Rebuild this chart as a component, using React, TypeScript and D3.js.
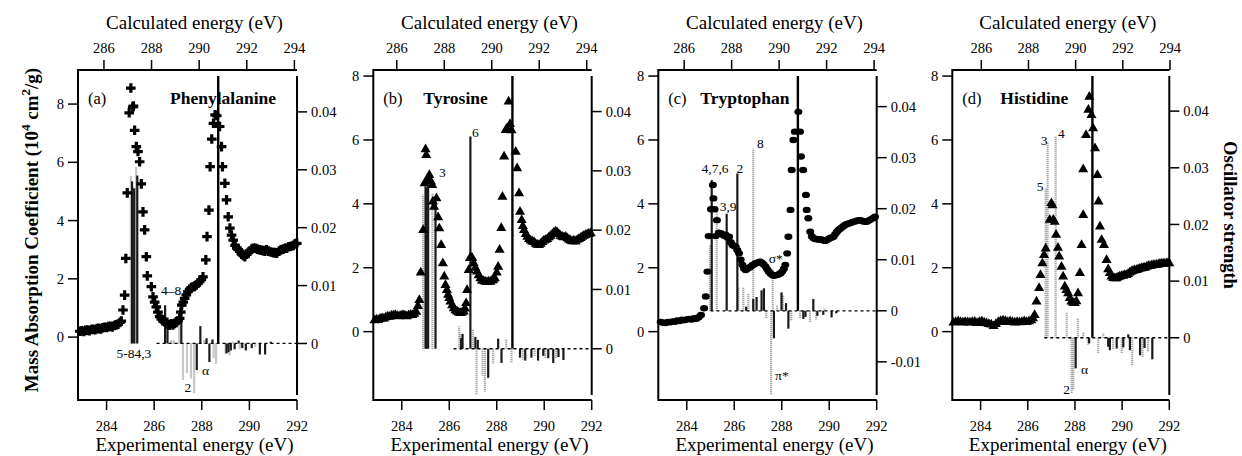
import React from 'react';
import * as d3 from 'd3';

type Pt = [number, number];

// measured spectra: [experimental energy (eV), mass absorption coefficient (10^4 cm2/g)]
const pheSpectrum: Pt[] = [
  [282.88, 0.2], [282.96, 0.22], [283.04, 0.19], [283.12, 0.23], [283.2, 0.24], [283.28, 0.22], [283.36, 0.26],
  [283.44, 0.27], [283.52, 0.25], [283.6, 0.29], [283.68, 0.3], [283.76, 0.28], [283.84, 0.32], [283.92, 0.34],
  [284.0, 0.33], [284.08, 0.36], [284.16, 0.37], [284.24, 0.35], [284.32, 0.4], [284.4, 0.42], [284.48, 0.44],
  [284.56, 0.5], [284.62, 0.55], [284.69, 0.93], [284.76, 1.44], [284.81, 2.7], [284.87, 4.95], [284.95, 7.7],
  [285.02, 8.55], [285.1, 7.9], [285.13, 7.93], [285.18, 7.1], [285.25, 6.54], [285.32, 6.37], [285.39, 6.02],
  [285.46, 5.26], [285.53, 4.3], [285.6, 3.68], [285.67, 2.76], [285.71, 2.1], [285.88, 1.73], [285.95, 1.38],
  [286.02, 1.2], [286.09, 1.04], [286.16, 0.86], [286.23, 0.7], [286.3, 0.62], [286.37, 0.55], [286.44, 0.53],
  [286.51, 0.47], [286.58, 0.43], [286.65, 0.41], [286.72, 0.46], [286.79, 0.42], [286.86, 0.47], [286.93, 0.5],
  [287.0, 0.56], [287.07, 0.64], [287.12, 0.86], [287.16, 1.1], [287.22, 1.2], [287.28, 1.33], [287.35, 1.45],
  [287.42, 1.56], [287.49, 1.64], [287.56, 1.7], [287.63, 1.73], [287.7, 1.74], [287.77, 1.79], [287.84, 1.85],
  [287.91, 1.9], [287.98, 1.97], [288.05, 2.07], [288.17, 2.65], [288.22, 3.45], [288.3, 4.36], [288.35, 5.85],
  [288.42, 6.8], [288.49, 7.34], [288.56, 7.63], [288.63, 7.6], [288.75, 7.23], [288.83, 6.54], [288.87, 5.85],
  [288.97, 5.28], [289.04, 4.71], [289.11, 4.13], [289.18, 3.74], [289.25, 3.5], [289.32, 3.33], [289.4, 3.15],
  [289.47, 3.05], [289.53, 3.0], [289.6, 2.95], [289.67, 2.85], [289.74, 2.8], [289.81, 2.76], [289.88, 2.85],
  [289.95, 2.9], [290.02, 2.95], [290.1, 3.02], [290.16, 3.05], [290.25, 3.05], [290.33, 3.02], [290.42, 3.0],
  [290.5, 2.98], [290.58, 2.97], [290.65, 2.95], [290.72, 3.0], [290.8, 2.95], [290.9, 2.92], [291.0, 2.9],
  [291.08, 2.9], [291.15, 2.88], [291.25, 2.95], [291.33, 3.0], [291.42, 3.02], [291.5, 3.05], [291.57, 3.05],
  [291.65, 3.1], [291.75, 3.12], [291.85, 3.15], [291.92, 3.2], [291.99, 3.22],
];

const tyrSpectrum: Pt[] = [
  [282.85, 0.35], [282.93, 0.38], [283.01, 0.36], [283.09, 0.4], [283.17, 0.42], [283.25, 0.41], [283.33, 0.45],
  [283.41, 0.47], [283.49, 0.46], [283.57, 0.5], [283.65, 0.5], [283.73, 0.52], [283.81, 0.49], [283.89, 0.48],
  [283.97, 0.5], [284.05, 0.52], [284.13, 0.5], [284.21, 0.48], [284.29, 0.51], [284.37, 0.53], [284.45, 0.52],
  [284.53, 0.56], [284.61, 0.62], [284.68, 0.8], [284.74, 0.99], [284.8, 1.85], [284.9, 3.18], [284.96, 4.64],
  [285.0, 5.71], [285.03, 5.53], [285.1, 4.75], [285.16, 4.9], [285.23, 4.7], [285.28, 4.59], [285.31, 4.07],
  [285.36, 3.91], [285.46, 4.17], [285.53, 3.58], [285.58, 3.23], [285.66, 2.71], [285.73, 2.14], [285.79, 1.72],
  [285.84, 1.46], [285.9, 1.3], [285.95, 1.15], [286.0, 1.05], [286.05, 0.94], [286.12, 0.82], [286.19, 0.73],
  [286.26, 0.67], [286.33, 0.63], [286.4, 0.6], [286.47, 0.58], [286.54, 0.6], [286.61, 0.63], [286.66, 0.72],
  [286.71, 0.89], [286.75, 1.3], [286.82, 1.93], [286.87, 2.3], [286.92, 2.32], [286.97, 2.3], [287.03, 2.14],
  [287.1, 2.0], [287.17, 1.88], [287.24, 1.76], [287.31, 1.67], [287.38, 1.6], [287.45, 1.58], [287.52, 1.56],
  [287.59, 1.55], [287.66, 1.57], [287.73, 1.56], [287.8, 1.6], [287.86, 1.62], [287.92, 1.67], [288.0, 1.85],
  [288.06, 2.03], [288.12, 2.56], [288.19, 3.24], [288.24, 4.22], [288.31, 5.48], [288.38, 6.31], [288.43, 6.36],
  [288.5, 7.2], [288.56, 6.5], [288.62, 6.3], [288.8, 5.63], [288.86, 5.11], [288.94, 4.33], [288.98, 3.75],
  [289.05, 3.49], [289.1, 3.3], [289.15, 3.18], [289.22, 3.05], [289.29, 2.97], [289.36, 2.9], [289.43, 2.85],
  [289.5, 2.82], [289.57, 2.8], [289.64, 2.75], [289.71, 2.72], [289.78, 2.71], [289.85, 2.75], [289.92, 2.8],
  [289.99, 2.85], [290.06, 2.87], [290.13, 2.9], [290.2, 2.95], [290.27, 3.0], [290.34, 3.05], [290.41, 3.1],
  [290.48, 3.13], [290.55, 3.1], [290.62, 3.05], [290.69, 3.0], [290.76, 2.97], [290.83, 2.95], [290.9, 2.97],
  [290.97, 2.92], [291.04, 2.88], [291.11, 2.85], [291.18, 2.83], [291.25, 2.85], [291.32, 2.82], [291.39, 2.87],
  [291.46, 2.9], [291.53, 2.93], [291.6, 2.97], [291.67, 3.0], [291.74, 3.02], [291.81, 3.05], [291.88, 3.06],
  [291.96, 3.08],
];

const trpSpectrum: Pt[] = [
  [282.9, 0.3], [283.0, 0.28], [283.1, 0.27], [283.2, 0.3], [283.3, 0.29], [283.4, 0.32], [283.5, 0.31],
  [283.6, 0.35], [283.7, 0.33], [283.8, 0.37], [283.9, 0.36], [284.0, 0.38], [284.1, 0.4], [284.2, 0.38],
  [284.3, 0.42], [284.4, 0.4], [284.5, 0.45], [284.6, 0.52], [284.73, 0.73], [284.8, 1.1], [284.87, 1.88],
  [284.92, 2.99], [285.02, 3.83], [285.1, 4.59], [285.12, 4.17], [285.17, 3.83], [285.22, 2.99], [285.27, 3.49],
  [285.35, 3.1], [285.43, 3.08], [285.5, 3.05], [285.57, 3.0], [285.64, 3.03], [285.71, 2.95], [285.78, 2.97],
  [285.85, 2.8], [285.92, 2.71], [285.99, 2.68], [286.06, 2.66], [286.13, 2.55], [286.2, 2.45], [286.27, 2.25],
  [286.34, 2.09], [286.41, 1.98], [286.48, 1.93], [286.55, 1.97], [286.62, 2.0], [286.69, 2.03], [286.76, 2.08],
  [286.83, 2.1], [286.9, 2.14], [286.97, 2.15], [287.04, 2.18], [287.1, 2.19], [287.17, 2.15], [287.24, 2.1],
  [287.32, 2.03], [287.39, 1.95], [287.45, 1.88], [287.52, 1.82], [287.6, 1.77], [287.67, 1.75], [287.74, 1.77],
  [287.81, 1.77], [287.88, 1.8], [287.95, 1.83], [288.02, 1.88], [288.09, 1.97], [288.15, 2.09], [288.23, 2.45],
  [288.28, 2.97], [288.37, 3.81], [288.42, 5.06], [288.49, 6.0], [288.55, 6.26], [288.7, 6.88], [288.77, 6.26],
  [288.81, 5.48], [288.9, 5.06], [289.02, 4.28], [289.05, 3.81], [289.12, 3.55], [289.2, 3.13], [289.27, 2.98],
  [289.34, 2.92], [289.41, 2.9], [289.48, 2.9], [289.55, 2.88], [289.62, 2.89], [289.69, 2.88], [289.76, 2.85],
  [289.83, 2.84], [289.9, 2.87], [289.97, 2.9], [290.04, 2.93], [290.11, 2.95], [290.18, 2.97], [290.25, 3.05],
  [290.32, 3.12], [290.39, 3.18], [290.46, 3.22], [290.53, 3.26], [290.6, 3.3], [290.67, 3.34], [290.74, 3.37],
  [290.81, 3.38], [290.88, 3.4], [290.95, 3.42], [291.02, 3.44], [291.09, 3.45], [291.16, 3.47], [291.23, 3.48],
  [291.3, 3.49], [291.37, 3.47], [291.44, 3.45], [291.51, 3.44], [291.58, 3.44], [291.65, 3.47], [291.72, 3.5],
  [291.79, 3.53], [291.86, 3.56], [291.93, 3.6],
];

const hisSpectrum: Pt[] = [
  [282.85, 0.28], [282.95, 0.3], [283.05, 0.32], [283.15, 0.3], [283.25, 0.28], [283.35, 0.3], [283.45, 0.29],
  [283.55, 0.28], [283.65, 0.3], [283.75, 0.31], [283.85, 0.27], [283.95, 0.3], [284.05, 0.32], [284.15, 0.28],
  [284.25, 0.26], [284.35, 0.24], [284.45, 0.22], [284.55, 0.17], [284.65, 0.24], [284.75, 0.3], [284.85, 0.33],
  [284.95, 0.35], [285.05, 0.33], [285.15, 0.3], [285.25, 0.32], [285.35, 0.3], [285.45, 0.28], [285.55, 0.3],
  [285.65, 0.29], [285.75, 0.3], [285.85, 0.32], [285.95, 0.3], [286.05, 0.32], [286.15, 0.35], [286.22, 0.42],
  [286.29, 0.52], [286.37, 0.94], [286.48, 1.36], [286.54, 1.77], [286.62, 2.14], [286.69, 2.4], [286.76, 2.6],
  [286.93, 3.5], [287.0, 4.02], [287.04, 3.95], [287.08, 3.5], [287.14, 3.44], [287.2, 3.03], [287.28, 2.62],
  [287.33, 2.35], [287.43, 2.03], [287.5, 1.72], [287.57, 1.41], [287.64, 1.3], [287.71, 1.2], [287.78, 1.05],
  [287.85, 0.94], [287.92, 0.9], [287.99, 0.89], [288.06, 0.95], [288.13, 1.2], [288.21, 1.83], [288.28, 2.71],
  [288.35, 3.65], [288.35, 5.08], [288.47, 6.15], [288.57, 6.94], [288.61, 7.35], [288.7, 6.78], [288.77, 6.36],
  [288.85, 5.74], [288.95, 4.9], [289.0, 4.07], [289.06, 3.29], [289.13, 2.87], [289.23, 2.71], [289.34, 2.24],
  [289.41, 1.95], [289.48, 1.83], [289.55, 1.72], [289.62, 1.68], [289.69, 1.67], [289.76, 1.67], [289.83, 1.7],
  [289.9, 1.72], [289.97, 1.74], [290.04, 1.75], [290.11, 1.77], [290.18, 1.77], [290.25, 1.8], [290.32, 1.85],
  [290.39, 1.88], [290.46, 1.9], [290.53, 1.92], [290.61, 1.93], [290.68, 1.95], [290.75, 1.97], [290.82, 1.98],
  [290.89, 2.0], [290.96, 2.0], [291.04, 2.03], [291.11, 2.05], [291.18, 2.05], [291.25, 2.07], [291.32, 2.08],
  [291.39, 2.08], [291.46, 2.09], [291.53, 2.1], [291.6, 2.12], [291.67, 2.12], [291.74, 2.13], [291.81, 2.12],
  [291.88, 2.14], [291.95, 2.15], [292.0, 2.14],
];

// calculated transitions: [energy on the experimental scale (eV), oscillator strength]
const pheSticksDark: Pt[] = [
  [285.07, 0.028], [285.16, 0.0268], [285.29, 0.029], [286.46, 0.0066], [286.56, 0.0045], [287.14, 0.006],
  [287.79, -0.0046], [287.94, 0.003], [288.2, 0.0009], [288.32, -0.0032], [288.45, 0.0007], [289.04, -0.0017],
  [289.12, -0.0015], [289.22, -0.0012], [289.38, -0.001], [289.55, 0.0005], [289.7, -0.0008], [289.85, -0.0012],
  [290.1, -0.0008], [290.44, -0.0019], [290.66, -0.0019], [290.9, 0.0003],
];
const pheSticksLight: Pt[] = [
  [285.02, 0.029], [285.12, 0.027], [285.24, 0.0305], [286.72, 0.0006], [286.82, 0.0005], [287.05, 0.0029],
  [287.21, -0.0063], [287.38, -0.0052], [287.55, -0.006], [287.68, -0.0086], [288.1, 0.0006], [288.5, -0.0025],
  [288.6, -0.0035], [289.0, -0.0018], [289.16, -0.002], [289.3, 0.0004], [289.6, -0.001], [290.25, -0.0007],
];

const tyrSticksDark: Pt[] = [
  [285.0, 0.0274], [285.04, 0.0272], [285.11, 0.0275], [285.42, 0.0248], [286.5, 0.0018], [286.56, 0.0025],
  [286.89, 0.0358], [287.1, 0.002], [287.2, 0.0015], [287.64, -0.0049], [288.06, 0.0017], [288.2, -0.0024],
  [288.98, -0.0015], [289.2, -0.002], [289.46, -0.0015], [289.74, -0.002], [289.96, -0.0012], [290.17, -0.0016],
  [290.38, -0.0024], [290.6, -0.0014], [290.81, -0.0019],
];
const tyrSticksLight: Pt[] = [
  [284.9, 0.026], [285.29, 0.0263], [286.42, 0.0038], [286.47, 0.0025], [287.0, 0.0033], [287.15, -0.0078],
  [287.4, -0.0045], [287.5, -0.0072], [287.85, -0.0025], [288.4, 0.0015], [288.62, -0.0024], [289.1, -0.0018],
  [289.6, -0.0013], [290.05, -0.0015], [290.5, -0.0017],
];

const trpSticksDark: Pt[] = [
  [285.05, 0.0256], [285.68, 0.019], [286.13, 0.0269], [286.5, 0.0008], [286.8, 0.0023], [286.94, 0.0027],
  [287.15, 0.004], [287.25, 0.0044], [287.67, -0.0054], [287.99, 0.0036], [288.18, 0.0015], [288.28, -0.0035],
  [288.91, -0.0016], [289.0, -0.0012], [289.33, 0.0023], [289.5, -0.001], [289.75, -0.0008], [290.1, -0.0013],
  [290.3, -0.0005],
];
const trpSticksLight: Pt[] = [
  [284.98, 0.013], [285.26, 0.0197], [286.17, 0.0047], [286.38, 0.0045], [286.59, 0.0033], [286.8, 0.0318],
  [287.35, -0.0016], [287.55, -0.0165], [287.62, 0.0083], [287.8, 0.0012], [288.05, 0.003], [288.4, -0.002],
  [288.77, -0.0015], [289.19, -0.0022], [289.45, -0.0017], [289.8, 0.0005],
];

const hisSticksDark: Pt[] = [
  [288.03, -0.0054], [288.6, -0.001], [289.41, -0.0016], [289.48, -0.0022], [289.77, -0.0019], [290.05, -0.0017],
  [290.26, 0.0006], [290.33, -0.0022], [290.76, -0.0031], [290.95, -0.0018], [291.28, -0.0038],
];
const hisSticksLight: Pt[] = [
  [286.76, 0.0263], [286.84, 0.0346], [287.18, 0.0355], [287.65, 0.0046], [287.86, -0.0098], [287.93, -0.0092],
  [288.12, 0.0034], [288.35, 0.001], [288.55, -0.0012], [288.99, -0.0028], [289.2, 0.0008], [289.62, -0.002],
  [289.98, -0.0028], [290.43, -0.005], [290.87, -0.0034], [291.1, -0.0025],
];

// ionisation threshold lines
const ipEnergy = [288.69, 288.66, 288.68, 288.74];

type StickLabel = { text: string; e: number; f: number; anchor: 'start' | 'middle' | 'end' };
const pheLabels: StickLabel[] = [
  { text: '5-84,3', e: 285.15, f: -0.0025, anchor: 'middle' },
  { text: '4\u20138', e: 286.71, f: 0.0083, anchor: 'middle' },
  { text: '\u03b1', e: 288.01, f: -0.0055, anchor: 'start' },
  { text: '2', e: 287.42, f: -0.0084, anchor: 'middle' },
];
const tyrLabels: StickLabel[] = [
  { text: '3', e: 285.57, f: 0.029, anchor: 'start' },
  { text: '6', e: 286.96, f: 0.0357, anchor: 'start' },
];
const trpLabels: StickLabel[] = [
  { text: '4,7,6', e: 285.19, f: 0.027, anchor: 'middle' },
  { text: '2', e: 286.24, f: 0.027, anchor: 'middle' },
  { text: '3,9', e: 285.74, f: 0.0195, anchor: 'middle' },
  { text: '8', e: 286.96, f: 0.0319, anchor: 'start' },
  { text: '\u03c3*', e: 287.75, f: 0.0094, anchor: 'middle' },
  { text: '\u03c0*', e: 287.72, f: -0.0136, anchor: 'start' },
];
const hisLabels: StickLabel[] = [
  { text: '3', e: 286.69, f: 0.034, anchor: 'middle' },
  { text: '4', e: 287.28, f: 0.0352, anchor: 'start' },
  { text: '5', e: 286.52, f: 0.0259, anchor: 'middle' },
  { text: '2', e: 287.65, f: -0.0099, anchor: 'middle' },
  { text: '\u03b1', e: 288.26, f: -0.0064, anchor: 'start' },
];

const panelTags = ['(a)', '(b)', '(c)', '(d)'];
const panelNames = ['Phenylalanine', 'Tyrosine', 'Tryptophan', 'Histidine'];
const expTicks = [284, 286, 288, 290, 292];
const calcTicks = [286, 288, 290, 292, 294];
const absTicks = [0, 2, 4, 6, 8];
const oscTicks = [
  [0, 0.01, 0.02, 0.03, 0.04],
  [0, 0.01, 0.02, 0.03, 0.04],
  [-0.01, 0, 0.01, 0.02, 0.03, 0.04],
  [0, 0.01, 0.02, 0.03, 0.04],
];
const expDomain: [number, number] = [282.8, 292];
const calcShift = [2.11, 2.21, 2.11, 1.97];
const absDomain: [number, number][] = [[-2.16, 9.17], [-2.14, 8.19], [-2.14, 8.19], [-2.14, 8.19]];
const oscDomain: [number, number][] = [[-0.0089, 0.0462], [-0.0078, 0.046], [-0.0165, 0.046], [-0.0101, 0.0462]];
const baselineFrom = [286.1, 286.18, 285.0, 286.7];

const spectra = [pheSpectrum, tyrSpectrum, trpSpectrum, hisSpectrum];
const darkSticks = [pheSticksDark, tyrSticksDark, trpSticksDark, hisSticksDark];
const lightSticks = [pheSticksLight, tyrSticksLight, trpSticksLight, hisSticksLight];
const stickLabels = [pheLabels, tyrLabels, trpLabels, hisLabels];
const markerKind = ['cross', 'triangle', 'circle', 'triangle'];

// layout
const panelLeft = [78, 373.3, 658.3, 952.3];
const panelWidth = [219, 218.4, 218.4, 217];
const frameTop = 70;
const frameBottom = 400;
const oscTop = 76;
const oscBottom = 395;
const serif = '"Liberation Serif", "Times New Roman", Times, serif';
const nameOffset = [92, 50, 42, 48];

const triPath = d3.symbol().type(d3.symbolTriangle).size(44)() as string;

const fmtOsc = (v: number) => (v === 0 ? '0' : v.toFixed(2));

function Marker({ kind, cx, cy }: { kind: string; cx: number; cy: number }) {
  if (kind === 'cross') {
    return <path d={`M${cx - 4.8},${cy}H${cx + 4.8}M${cx},${cy - 4.8}V${cy + 4.8}`} stroke="#000" strokeWidth={3.2} />;
  }
  if (kind === 'triangle') {
    return <path d={triPath} transform={`translate(${cx},${cy})`} fill="#000" />;
  }
  return <ellipse cx={cx} cy={cy} rx={4} ry={3.2} fill="#000" />;
}

function Panel({ idx }: { idx: number }) {
  const left = panelLeft[idx];
  const right = left + panelWidth[idx];
  const x = d3.scaleLinear().domain(expDomain).range([left, right]);
  const xc = d3.scaleLinear()
    .domain([expDomain[0] + calcShift[idx], expDomain[1] + calcShift[idx]])
    .range([left, right]);
  const y = d3.scaleLinear().domain(absDomain[idx]).range([frameBottom, frameTop]);
  const yo = d3.scaleLinear().domain(oscDomain[idx]).range([oscBottom, oscTop]);
  const mid = (left + right) / 2 + 7;

  return (
    <g>
      {lightSticks[idx].map(([e, f], k) => (
        <line key={'l' + k} x1={x(e)} x2={x(e)} y1={yo(0)} y2={yo(f)}
          stroke="#8f8f8f" strokeWidth={2.2} strokeDasharray="1 1" />
      ))}
      {darkSticks[idx].map(([e, f], k) => (
        <line key={'d' + k} x1={x(e)} x2={x(e)} y1={yo(0)} y2={yo(f)}
          stroke="#1a1a1a" strokeWidth={2.2} />
      ))}
      <line x1={x(baselineFrom[idx])} x2={right} y1={yo(0)} y2={yo(0)}
        stroke="#000" strokeWidth={1.3} strokeDasharray="3 3" />

      {spectra[idx].map(([e, v], k) => (
        <Marker key={'m' + k} kind={markerKind[idx]} cx={x(e)} cy={y(v)} />
      ))}

      {stickLabels[idx].map((l, k) => (
        <text key={'t' + k} x={x(l.e)} y={yo(l.f)} textAnchor={l.anchor} fontSize={13.5} fontFamily={serif}>
          {l.text}
        </text>
      ))}

      <text x={left + 10} y={frameTop + 34} fontSize={16.5} fontFamily={serif}>{panelTags[idx]}</text>
      <text x={left + nameOffset[idx]} y={frameTop + 34} fontSize={17.5} fontWeight="bold" fontFamily={serif}>
        {panelNames[idx]}
      </text>

      {/* frame */}
      <path d={`M${right},${frameTop}H${left}V${frameBottom}H${right}`} fill="none" stroke="#000" strokeWidth={2} />
      <line x1={right} x2={right} y1={oscTop} y2={oscBottom} stroke="#000" strokeWidth={2} />

      {/* experimental axis */}
      {expTicks.map(t => (
        <g key={'x' + t}>
          <line x1={x(t)} x2={x(t)} y1={frameBottom} y2={frameBottom + 10} stroke="#000" strokeWidth={1.5} />
          <text x={x(t)} y={frameBottom + 31} textAnchor="middle" fontSize={14.5} fontFamily={serif}>{t}</text>
        </g>
      ))}
      <text x={mid} y={451} textAnchor="middle" fontSize={19} fontFamily={serif}>Experimental energy (eV)</text>

      {/* calculated axis */}
      {calcTicks.map(t => (
        <g key={'c' + t}>
          <line x1={xc(t)} x2={xc(t)} y1={frameTop} y2={frameTop - 10} stroke="#000" strokeWidth={1.5} />
          <text x={xc(t)} y={frameTop - 17} textAnchor="middle" fontSize={14.5} fontFamily={serif}>{t}</text>
        </g>
      ))}
      <text x={mid} y={29} textAnchor="middle" fontSize={19} fontFamily={serif}>Calculated energy (eV)</text>

      {/* absorption axis */}
      {absTicks.map(t => (
        <g key={'y' + t}>
          <line x1={left - 10} x2={left} y1={y(t)} y2={y(t)} stroke="#000" strokeWidth={1.5} />
          <text x={left - 14} y={y(t)} dy="0.35em" textAnchor="end" fontSize={14.5} fontFamily={serif}>{t}</text>
        </g>
      ))}

      {/* oscillator axis */}
      {oscTicks[idx].map(t => (
        <g key={'o' + t}>
          <line x1={right} x2={right + 10} y1={yo(t)} y2={yo(t)} stroke="#000" strokeWidth={1.5} />
          <text x={right + 14} y={yo(t)} dy="0.35em" fontSize={14.5} fontFamily={serif}>{fmtOsc(t)}</text>
        </g>
      ))}

      <line x1={x(ipEnergy[idx])} x2={x(ipEnergy[idx])} y1={yo(0)} y2={oscTop}
        stroke="#000" strokeWidth={2.4} />
    </g>
  );
}

export default function App() {
  return (
    <div style={{ position: 'absolute', left: 0, top: 0 }}>
      <svg width={1242} height={456} style={{ display: 'block', background: '#fff' }}>
        {[0, 1, 2, 3].map(i => <Panel key={i} idx={i} />)}
        <text transform="translate(38,230) rotate(-90)" textAnchor="middle" fontSize={19}
          fontWeight="bold" fontFamily={serif}>
          Mass Absorption Coefficient (10<tspan dy={-8} fontSize={13}>4</tspan>
          <tspan dy={8}> cm</tspan><tspan dy={-8} fontSize={13}>2</tspan><tspan dy={8}>/g)</tspan>
        </text>
        <text transform="translate(1224,215) rotate(90)" textAnchor="middle" fontSize={18.5}
          fontWeight="bold" fontFamily={serif}>
          Oscillator strength
        </text>
      </svg>
    </div>
  );
}
